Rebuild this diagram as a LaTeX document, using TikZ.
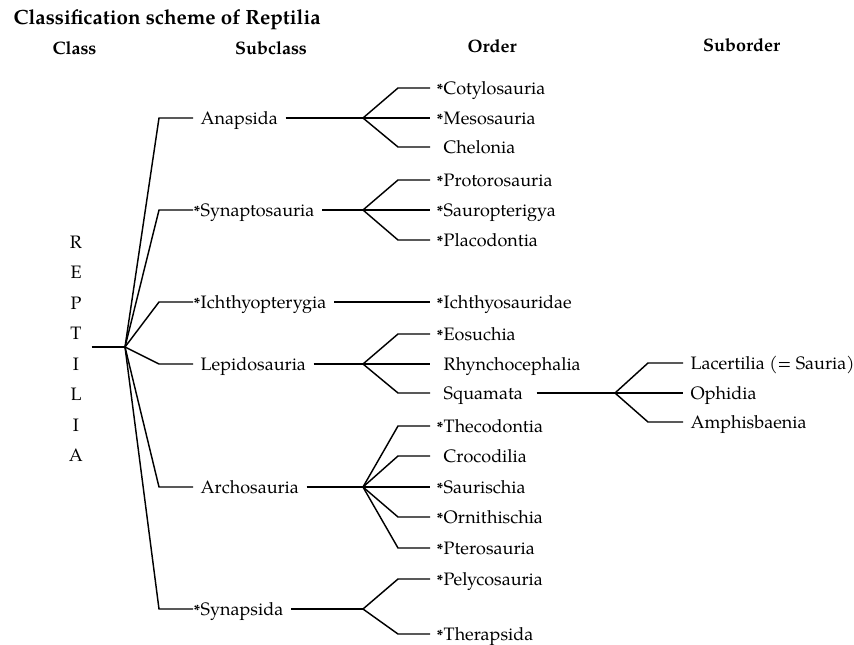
\documentclass[tikz,border=0pt]{standalone}
\usepackage{fontspec}
\setmainfont{texgyrepagella}[Extension=.otf, UprightFont=*-regular, BoldFont=*-bold, ItalicFont=*-italic, BoldItalicFont=*-bolditalic]
\newcommand\ext{\llap{\raisebox{0pt}{\fontsize{15}{15}\selectfont\bfseries *}\kern0.5pt}}
\tikzset{
  lab/.style={inner ysep=0pt, text height=13pt, text depth=1pt, anchor=west},
  subc/.style={lab, inner xsep=7pt},
  ord/.style={lab, inner xsep=13pt},
  subo/.style={lab, inner xsep=7pt},
  head/.style={font=\bfseries\fontsize{18}{18}\selectfont, anchor=base, inner sep=0pt},
}
\begin{document}
\begin{tikzpicture}[x=1pt,y=-1pt, line width=1.45pt,
  every node/.append style={font=\fontsize{18}{18}\selectfont}]
\useasboundingbox[fill=white] (0,0) rectangle (854,645);
% title and headers
\node[head, anchor=base west, font=\bfseries\fontsize{20.6}{21}\selectfont] (title) at (13,24) {Classification scheme of Reptilia};
\node[head] (hcl) at (74.5,54) {Class};
\node[head] (hsub) at (271,54) {Subclass};
\node[head] (hord) at (492,52) {Order};
\node[head] (hsubo) at (741.5,51) {Suborder};
% class
\node[inner xsep=8pt, inner ysep=0pt, align=center, font=\fontsize{18}{30.5}\selectfont] (rep) at (76,349) {R\\E\\P\\T\\I\\L\\I\\A};
\coordinate (root) at (125,347);
% subclasses
\node[subc] (ana) at (193,118) {Anapsida};
\node[subc] (syn) at (193,210) {\ext Synaptosauria};
\node[subc] (ichp) at (193,302) {\ext Ichthyopterygia};
\node[subc] (lep) at (193,364) {Lepidosauria};
\node[subc] (arc) at (193,487) {Archosauria};
\node[subc] (sys) at (193,609) {\ext Synapsida};
% orders
\node[ord] (cot) at (430,88) {\ext Cotylosauria};
\node[ord] (mes) at (430,118) {\ext Mesosauria};
\node[ord] (che) at (430,147) {Chelonia};
\node[ord] (pro) at (430,180) {\ext Protorosauria};
\node[ord] (sau) at (430,210) {\ext Sauropterigya};
\node[ord] (pla) at (430,240) {\ext Placodontia};
\node[ord] (ichs) at (430,302) {\ext Ichthyosauridae};
\node[ord] (eos) at (430,334) {\ext Eosuchia};
\node[ord] (rhy) at (430,364) {Rhynchocephalia};
\node[ord] (squ) at (430,393) {Squamata};
\node[ord] (the) at (430,426) {\ext Thecodontia};
\node[ord] (cro) at (430,456) {Crocodilia};
\node[ord] (sar) at (430,487) {\ext Saurischia};
\node[ord] (orn) at (430,517) {\ext Ornithischia};
\node[ord] (pte) at (430,548) {\ext Pterosauria};
\node[ord] (pel) at (430,579) {\ext Pelycosauria};
\node[ord] (ter) at (430,634) {\ext Therapsida};
% suborders
\node[subo] (lac) at (683,363) {Lacertilia (= Sauria)};
\node[subo] (oph) at (683,393) {Ophidia};
\node[subo] (amp) at (683,422) {Amphisbaenia};
% forks
\coordinate (fA) at (363,118);
\coordinate (fS) at (363,210);
\coordinate (fL) at (363,364);
\coordinate (fR) at (363,487);
\coordinate (fY) at (363,609);
\coordinate (fQ) at (615,393);
% class to subclasses
\draw (rep.east |- root) -- (root);
\foreach \n in {ana,syn,ichp,lep,arc,sys}
  \draw (root) -- ([xshift=-34pt]\n.west) -- (\n.west);
% subclass to orders
\draw (ana.east) -- (fA);
\draw (syn.east) -- (fS);
\draw (ichp.east) -- (ichs.west);
\draw (lep.east) -- (fL);
\draw (arc.east) -- (fR);
\draw (sys.east) -- (fY);
\foreach \f/\n in {fA/cot,fA/che,fS/pro,fS/pla,fL/eos,fL/squ,fR/the,fR/cro,fR/orn,fR/pte,fY/pel,fY/ter}
  \draw (\f) -- ([xshift=-32pt]\n.west) -- (\n.west);
\draw (fA) -- (mes.west);
\draw (fS) -- (sau.west);
\draw (fL) -- (rhy.west);
\draw (fR) -- (sar.west);
% suborders
\draw (squ.east) -- (fQ);
\draw (fQ) -- ([xshift=-35pt]lac.west) -- (lac.west);
\draw (fQ) -- (oph.west);
\draw (fQ) -- ([xshift=-35pt]amp.west) -- (amp.west);
\end{tikzpicture}
\end{document}
